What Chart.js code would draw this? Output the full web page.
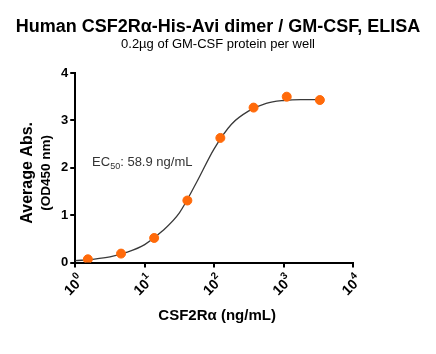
<!DOCTYPE html>
<html><head><meta charset="utf-8">
<script src="https://cdn.jsdelivr.net/npm/chart.js@4/dist/chart.umd.min.js"></script>
<style>html,body{margin:0;padding:0;background:#fff}#wrap{width:436px;height:354px}</style>
</head><body><div id="wrap"><canvas id="c" width="436" height="354"></canvas></div>
<script>
const titleText = "Human CSF2Rα-His-Avi dimer / GM-CSF, ELISA";
const subtitleText = "0.2µg of GM-CSF protein per well";
const xTitle = "CSF2Rα (ng/mL)";
const yTitle1 = "Average Abs.";
const yTitle2 = "(OD450 nm)";
const xTickValues = [1, 10, 100, 1000, 10000];
const xTickBase = "10";
const xTickExponents = ["0", "1", "2", "3", "4"];
const yTickValues = [0, 1, 2, 3, 4];
// measured points
const pointConc = [1.52, 4.57, 13.7, 41.2, 123, 370, 1111, 3333];
const pointAbs = [0.07, 0.19, 0.52, 1.31, 2.63, 3.27, 3.50, 3.43];
// fitted curve
const curveConc = [1, 1.778, 3.162, 5.623, 10, 17.78, 31.62, 56.23, 100, 177.8, 316.2, 562.3, 1000, 1778, 3548];
const curveAbs = [0.04, 0.07, 0.12, 0.22, 0.38, 0.66, 1.05, 1.70, 2.40, 2.92, 3.20, 3.36, 3.42, 3.44, 3.44];
const ec50Label = "58.9 ng/mL";

const FONT = "'Liberation Sans', Arial, sans-serif";

const overlay = {
  id: 'overlay',
  afterDraw(chart) {
    const ctx = chart.ctx, a = chart.chartArea;
    const xs = chart.scales.x, ys = chart.scales.y;
    ctx.save();
    ctx.fillStyle = '#000';
    ctx.textAlign = 'center';
    ctx.textBaseline = 'middle';
    ctx.font = "bold 18px " + FONT;
    ctx.fillText(titleText, 218, 27);
    ctx.font = "13px " + FONT;
    ctx.fillText(subtitleText, 218, 44);
    ctx.font = "bold 15px " + FONT;
    ctx.fillText(xTitle, (a.left + a.right) / 2 + 3, 316);
    const cy = (a.top + a.bottom) / 2 + 5;
    ctx.save();
    ctx.translate(28, cy);
    ctx.rotate(-Math.PI / 2);
    ctx.font = "bold 16px " + FONT;
    ctx.fillText(yTitle1, 0, 0);
    ctx.restore();
    ctx.save();
    ctx.translate(46, cy);
    ctx.rotate(-Math.PI / 2);
    ctx.font = "bold 13.5px " + FONT;
    ctx.fillText(yTitle2, 0, 0);
    ctx.restore();
    // x tick labels: 10 with superscript exponent, rotated 45°
    xTickValues.forEach((v, i) => {
      const px = xs.getPixelForValue(v);
      ctx.save();
      ctx.translate(px + 6, a.bottom + 15);
      ctx.rotate(-Math.PI / 4);
      ctx.textAlign = 'left';
      ctx.textBaseline = 'alphabetic';
      ctx.font = "bold 10px " + FONT;
      const we = ctx.measureText(xTickExponents[i]).width;
      ctx.font = "bold 14px " + FONT;
      const wb = ctx.measureText(xTickBase).width;
      const total = wb + we;
      ctx.fillText(xTickBase, -total, 5);
      ctx.font = "bold 10px " + FONT;
      ctx.fillText(xTickExponents[i], -we, -2);
      ctx.restore();
    });
    // EC50 annotation
    const tx = xs.getPixelForValue(1.75), ty = ys.getPixelForValue(2.03);
    ctx.textAlign = 'left';
    ctx.textBaseline = 'alphabetic';
    ctx.fillStyle = '#333';
    ctx.font = "13px " + FONT;
    ctx.fillText("EC", tx, ty);
    let w = ctx.measureText("EC").width;
    ctx.font = "9px " + FONT;
    ctx.fillText("50", tx + w, ty + 3);
    w += ctx.measureText("50").width;
    ctx.font = "13px " + FONT;
    ctx.fillText(": " + ec50Label, tx + w, ty);
    ctx.restore();
  }
};

new Chart(document.getElementById('c'), {
  type: 'scatter',
  data: {
    datasets: [
      {
        data: pointConc.map((x, i) => ({x, y: pointAbs[i]})),
        backgroundColor: '#FF6A0A', borderColor: '#FF6A0A',
        pointRadius: 4.5, pointHoverRadius: 4.5, showLine: false, order: 0
      },
      {
        data: curveConc.map((x, i) => ({x, y: curveAbs[i]})),
        showLine: true, borderColor: '#3a3a3a', borderWidth: 1.3,
        pointRadius: 0, cubicInterpolationMode: 'monotone', order: 1
      }
    ]
  },
  options: {
    responsive: false, animation: false,
    layout: { padding: { left: 59, right: 83, top: 73, bottom: 72 } },
    plugins: { legend: { display: false }, tooltip: { enabled: false } },
    scales: {
      x: {
        type: 'logarithmic', min: 1, max: 10000,
        afterBuildTicks(s) { s.ticks = xTickValues.map(v => ({value: v})); },
        ticks: { callback() { return ''; }, maxRotation: 0, padding: 0 },
        grid: { drawOnChartArea: false, drawTicks: true, tickLength: 5, color: '#000', lineWidth: 2 },
        border: { display: true, color: '#000', width: 2 }
      },
      y: {
        min: 0, max: 4,
        afterBuildTicks(s) { s.ticks = yTickValues.map(v => ({value: v})); },
        ticks: { color: '#000', font: { family: FONT, size: 13, weight: 'bold' }, padding: 2 },
        grid: { drawOnChartArea: false, drawTicks: true, tickLength: 5, color: '#000', lineWidth: 2 },
        border: { display: true, color: '#000', width: 2 }
      }
    }
  },
  plugins: [overlay]
});
</script>
</body></html>
